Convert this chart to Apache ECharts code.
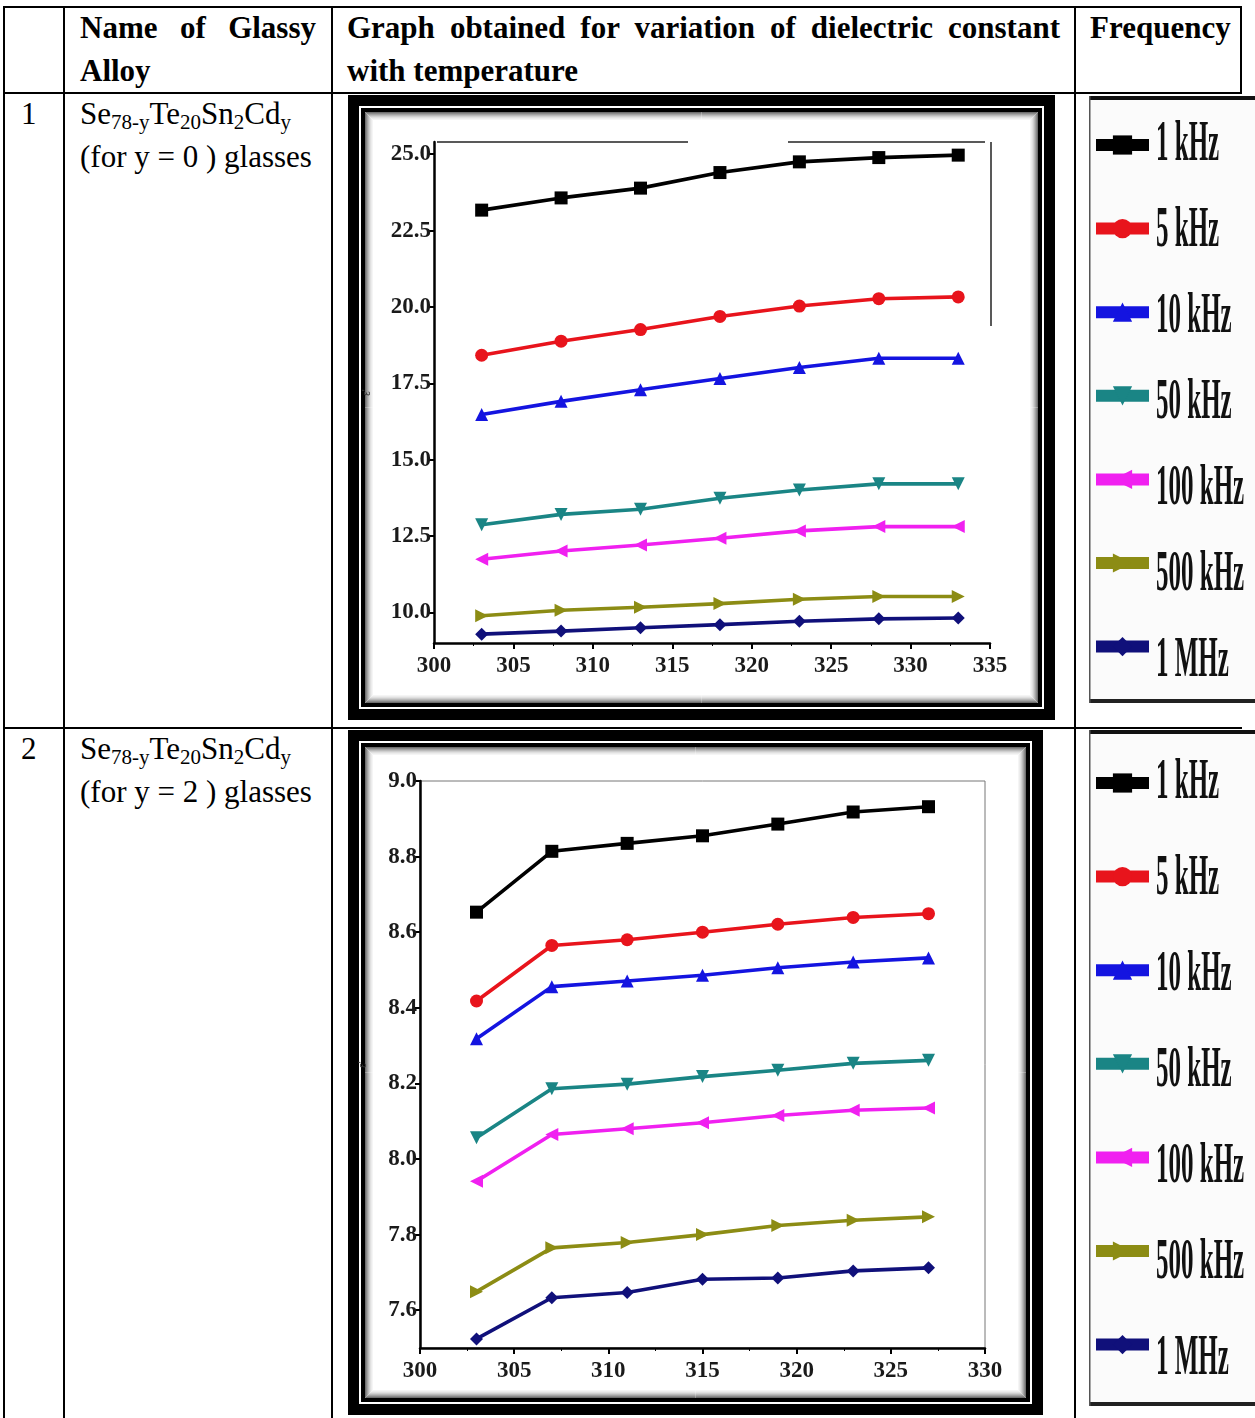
<!DOCTYPE html>
<html>
<head>
<meta charset="utf-8">
<script src="https://cdn.jsdelivr.net/npm/echarts@6.0.0/dist/echarts.min.js"></script>
<style>
  html, body { margin: 0; padding: 0; background: #fff; }
  #page { position: relative; width: 1255px; height: 1418px; overflow: hidden; background: #fff;
          font-family: "Liberation Serif", "Times New Roman", serif; color: #000; }
  .ln { position: absolute; background: #000; z-index: 1; }
  .txt { position: absolute; font-size: 31px; line-height: 43px; z-index: 3; white-space: nowrap; }
  .b { font-weight: bold; }
  .just { text-align: justify; text-align-last: justify; white-space: normal; }
  .sb { font-size: 21px; vertical-align: -5px; line-height: 0; }
  .chart { position: absolute; z-index: 2; }
</style>
</head>
<body>
<div id="page">
  <!-- table grid lines -->
  <div class="ln" style="left:3px;top:6px;width:1239px;height:2px"></div>
  <div class="ln" style="left:3px;top:6px;width:2px;height:1412px"></div>
  <div class="ln" style="left:63px;top:6px;width:2px;height:1412px"></div>
  <div class="ln" style="left:331px;top:6px;width:2px;height:1412px"></div>
  <div class="ln" style="left:1074px;top:6px;width:2px;height:1412px"></div>
  <div class="ln" style="left:1240px;top:6px;width:2px;height:88px"></div>
  <div class="ln" style="left:3px;top:92px;width:1239px;height:2px"></div>
  <div class="ln" style="left:3px;top:727px;width:1239px;height:2px"></div>

  <!-- header -->
  <div class="txt b" style="left:80px;top:6px;width:236px;">
    <div class="just">Name of Glassy</div>
    <div>Alloy</div>
  </div>
  <div class="txt b" style="left:347px;top:6px;width:713px;">
    <div class="just">Graph obtained for variation of dielectric constant</div>
    <div>with temperature</div>
  </div>
  <div class="txt b" style="left:1090px;top:6px;">Frequency</div>

  <!-- row 1 -->
  <div class="txt" style="left:21px;top:92px;">1</div>
  <div class="txt" style="left:80px;top:92px;">
    <div>Se<span class="sb">78-y</span>Te<span class="sb">20</span>Sn<span class="sb">2</span>Cd<span class="sb">y</span></div>
    <div>(for y = 0 ) glasses</div>
  </div>

  <!-- row 2 -->
  <div class="txt" style="left:21px;top:727px;">2</div>
  <div class="txt" style="left:80px;top:727px;">
    <div>Se<span class="sb">78-y</span>Te<span class="sb">20</span>Sn<span class="sb">2</span>Cd<span class="sb">y</span></div>
    <div>(for y = 2 ) glasses</div>
  </div>

  <div id="chart1" class="chart" style="left:348px;top:95px;width:907px;height:625px;"></div>
  <div id="chart2" class="chart" style="left:348px;top:730px;width:907px;height:685px;"></div>
</div>

<script>
// ---------- data ----------
const freqNames = ['1 kHz', '5 kHz', '10 kHz', '50 kHz', '100 kHz', '500 kHz', '1 MHz'];

// Glass y = 0
const temps1 = [303, 308, 313, 318, 323, 328, 333];
const eps1_1kHz   = [23.17, 23.57, 23.89, 24.40, 24.75, 24.89, 24.97];
const eps1_5kHz   = [18.42, 18.88, 19.26, 19.69, 20.03, 20.27, 20.33];
const eps1_10kHz  = [16.48, 16.91, 17.29, 17.66, 18.02, 18.32, 18.32];
const eps1_50kHz  = [12.87, 13.21, 13.38, 13.74, 14.01, 14.21, 14.21];
const eps1_100kHz = [11.74, 12.01, 12.21, 12.43, 12.67, 12.81, 12.81];
const eps1_500kHz = [9.89, 10.07, 10.17, 10.29, 10.43, 10.52, 10.52];
const eps1_1MHz   = [9.29, 9.39, 9.50, 9.60, 9.71, 9.79, 9.82];
const yTicks1 = [10, 12.5, 15, 17.5, 20, 22.5, 25];

// Glass y = 2
const temps2 = [303, 307, 311, 315, 319, 323, 327];
const eps2_1kHz   = [8.653, 8.814, 8.835, 8.855, 8.886, 8.918, 8.932];
const eps2_5kHz   = [8.418, 8.565, 8.580, 8.600, 8.621, 8.639, 8.649];
const eps2_10kHz  = [8.318, 8.456, 8.471, 8.486, 8.506, 8.521, 8.532];
const eps2_50kHz  = [8.056, 8.186, 8.198, 8.218, 8.235, 8.253, 8.261];
const eps2_100kHz = [7.941, 8.065, 8.080, 8.096, 8.115, 8.129, 8.135];
const eps2_500kHz = [7.649, 7.765, 7.779, 7.800, 7.824, 7.838, 7.847];
const eps2_1MHz   = [7.524, 7.633, 7.647, 7.682, 7.685, 7.704, 7.712];
const yTicks2 = [7.6, 7.8, 8.0, 8.2, 8.4, 8.6, 8.8, 9.0];

// ---------- styling ----------
const colors = ['#000000', '#e8141c', '#1414e0', '#1a8585', '#f020f0', '#8c8c14', '#10107a'];
const symbols = [
  { symbol: 'rect', rotate: 0 },
  { symbol: 'circle', rotate: 0 },
  { symbol: 'triangle', rotate: 0 },
  { symbol: 'triangle', rotate: 180 },
  { symbol: 'triangle', rotate: 90 },
  { symbol: 'triangle', rotate: -90 },
  { symbol: 'diamond', rotate: 0 }
];
const axisFont = { fontFamily: '"Liberation Serif", serif', fontWeight: 'bold', fontSize: 23, color: '#1a1a1a' };

function frame(w, h) {
  const els = [
    { type: 'rect', z: -5, silent: true, shape: { x: 0, y: 0, width: w, height: h }, style: { fill: '#000' } },
    { type: 'rect', z: -5, silent: true, shape: { x: 11, y: 11, width: w - 22, height: h - 22 }, style: { fill: '#fff' } },
    { type: 'rect', z: -5, silent: true, shape: { x: 13, y: 13, width: w - 26, height: h - 26 }, style: { fill: '#000' } },
    { type: 'rect', z: -5, silent: true, shape: { x: 17, y: 17, width: w - 34, height: h - 34 }, style: { fill: '#fff' } }
  ];
  const grays = ['#6e6e6e', '#8a8a8a', '#a3a3a3', '#bababa', '#cfcfcf', '#e0e0e0', '#ececec', '#f5f5f5'];
  grays.forEach((g, i) => {
    const o = 17.5 + i;
    els.push({ type: 'rect', z: -4, silent: true,
      shape: { x: o, y: o, width: w - 2 * o, height: h - 2 * o },
      style: { fill: null, stroke: g, lineWidth: 1 } });
  });
  return els;
}

function legendBox(x0, y0, w, h, centers) {
  const els = [
    { type: 'rect', z: -5, silent: true, shape: { x: x0, y: y0, width: w, height: h }, style: { fill: '#fbfbfb' } },
    { type: 'rect', z: -4, silent: true, shape: { x: x0, y: y0, width: w, height: 4 }, style: { fill: '#111' } },
    { type: 'rect', z: -4, silent: true, shape: { x: x0, y: y0 + h - 4, width: w, height: 4 }, style: { fill: '#222' } },
    { type: 'rect', z: -4, silent: true, shape: { x: x0, y: y0, width: 1.5, height: h }, style: { fill: '#555' } }
  ];
  freqNames.forEach((n, i) => {
    els.push({ type: 'text', z: 10, silent: true, x: x0 + 67, y: centers[i], scaleY: 2.3,
      style: { text: n, fill: '#111', fontSize: 25, fontWeight: 'bold',
               fontFamily: '"Liberation Serif", serif', verticalAlign: 'middle', align: 'left' } });
  });
  return els;
}

function buildSeries(temps, sets) {
  return sets.map((vals, i) => ({
    name: freqNames[i],
    type: 'line',
    data: temps.map((t, k) => [t, vals[k]]),
    symbol: symbols[i].symbol,
    symbolRotate: symbols[i].rotate,
    symbolSize: 13,
    lineStyle: { color: colors[i], width: 3.6 },
    itemStyle: { color: colors[i] },
    z: 3
  }));
}

function legendOpt(left, top, gap) {
  return {
    data: freqNames, orient: 'vertical', left: left, top: top, padding: 0,
    itemWidth: 53, itemHeight: 24, itemGap: gap, selectedMode: false,
    formatter: () => '', textStyle: { fontSize: 10 },
    lineStyle: { width: 12 }
  };
}

// ---------- chart 1 ----------
const c1 = echarts.init(document.getElementById('chart1'), null, { renderer: 'canvas' });
const c1Centers = freqNames.map((_, i) => 50 + i * 86);
c1.setOption({
  backgroundColor: 'transparent',
  animation: false,
  grid: { left: 86, right: 265, top: 47, bottom: 77 },
  xAxis: {
    type: 'value', min: 300, max: 335, interval: 5,
    axisLine: { lineStyle: { color: '#000', width: 2.5 } },
    axisTick: { show: true, length: 6, lineStyle: { color: '#000', width: 2 } },
    minorTick: { show: true, splitNumber: 2, length: 3, lineStyle: { color: '#000' } },
    splitLine: { show: false },
    axisLabel: Object.assign({ margin: 12 }, axisFont)
  },
  yAxis: {
    type: 'value', min: 9, max: 25.4,
    name: "ε'", nameLocation: 'middle', nameGap: 62, nameRotate: 90,
    nameTextStyle: { fontSize: 10, color: '#333' },
    axisLine: { show: true, lineStyle: { color: '#000', width: 2.5 } },
    axisTick: { show: true, length: 5, customValues: yTicks1, lineStyle: { color: '#000', width: 2 } },
    splitLine: { show: false },
    axisLabel: Object.assign({ margin: 3, customValues: yTicks1, formatter: v => v.toFixed(1) }, axisFont)
  },
  legend: legendOpt(742, 38, 62),
  graphic: [].concat(
    frame(707, 625),
    [
      { type: 'line', z: 1, silent: true, shape: { x1: 89, y1: 47, x2: 340, y2: 47 }, style: { stroke: '#222', lineWidth: 1.5 } },
      { type: 'line', z: 1, silent: true, shape: { x1: 440, y1: 47, x2: 637, y2: 47 }, style: { stroke: '#222', lineWidth: 1.5 } },
      { type: 'line', z: 1, silent: true, shape: { x1: 643, y1: 47, x2: 643, y2: 231 }, style: { stroke: '#222', lineWidth: 1.5 } }
    ],
    legendBox(741, 1, 166, 607, c1Centers)
  ),
  series: buildSeries(temps1, [eps1_1kHz, eps1_5kHz, eps1_10kHz, eps1_50kHz, eps1_100kHz, eps1_500kHz, eps1_1MHz])
});

// ---------- chart 2 ----------
const c2 = echarts.init(document.getElementById('chart2'), null, { renderer: 'canvas' });
const c2Centers = freqNames.map((_, i) => 53 + i * 96);
c2.setOption({
  backgroundColor: 'transparent',
  animation: false,
  grid: { left: 72, right: 270, top: 51, bottom: 67, show: true, borderColor: '#777', borderWidth: 1 },
  xAxis: {
    type: 'value', min: 300, max: 330, interval: 5,
    axisLine: { lineStyle: { color: '#000', width: 2.5 } },
    axisTick: { show: true, length: 6, lineStyle: { color: '#000', width: 2 } },
    minorTick: { show: true, splitNumber: 2, length: 3, lineStyle: { color: '#000' } },
    splitLine: { show: false },
    axisLabel: Object.assign({ margin: 12 }, axisFont)
  },
  yAxis: {
    type: 'value', min: 7.5, max: 9.0,
    name: "ε'", nameLocation: 'middle', nameGap: 52, nameRotate: 90,
    nameTextStyle: { fontSize: 10, color: '#333' },
    axisLine: { show: true, lineStyle: { color: '#000', width: 2.5 } },
    axisTick: { show: true, length: 5, customValues: yTicks2, lineStyle: { color: '#000', width: 2 } },
    splitLine: { show: false },
    axisLabel: Object.assign({ margin: 3, customValues: yTicks2, formatter: v => v.toFixed(1) }, axisFont)
  },
  legend: legendOpt(742, 41, 72),
  graphic: [].concat(
    frame(695, 685),
    legendBox(741, 0, 166, 676, c2Centers)
  ),
  series: buildSeries(temps2, [eps2_1kHz, eps2_5kHz, eps2_10kHz, eps2_50kHz, eps2_100kHz, eps2_500kHz, eps2_1MHz])
});
</script>
</body>
</html>
